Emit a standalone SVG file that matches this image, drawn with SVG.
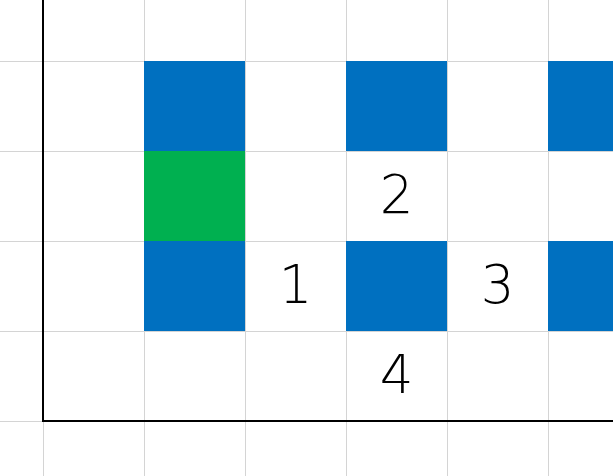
<svg xmlns="http://www.w3.org/2000/svg" width="613" height="476" viewBox="0 0 613 476">
<style>
.g{stroke:#d4d4d4;stroke-width:1;fill:none}
.ax{stroke:#000;stroke-width:2;fill:none}
.b{fill:#0070c0}
.gr{fill:#00b050}
.t{font-family:"DejaVu Sans",sans-serif;font-weight:200;font-size:53px;fill:#000;text-anchor:middle}
</style>
<rect width="613" height="476" fill="#fff"/>
<g id="grid">
<path class="g" d="M43.5 0V476M144.5 0V476M245.5 0V476M346.5 0V476M447.5 0V476M548.5 0V476M0 61.5H613M0 151.5H613M0 241.5H613M0 331.5H613M0 421.5H613"/>
</g>
<g id="cells">
<rect id="b1" class="b" x="144" y="61" width="101" height="90"/>
<rect id="b2" class="b" x="346" y="61" width="101" height="90"/>
<rect id="b3" class="b" x="548" y="61" width="65" height="90"/>
<rect id="green" class="gr" x="144" y="151" width="101" height="90"/>
<rect id="b4" class="b" x="144" y="241" width="101" height="90"/>
<rect id="b5" class="b" x="346" y="241" width="101" height="90"/>
<rect id="b6" class="b" x="548" y="241" width="65" height="90"/>
</g>
<g id="axes">
<path class="ax" d="M43 0V421H613"/>
</g>
<g id="labels">
<text class="t" x="295.5" y="303">1</text>
<text class="t" x="396.5" y="213">2</text>
<text class="t" x="497.5" y="303">3</text>
<text class="t" x="396.5" y="393">4</text>
</g>
</svg>
